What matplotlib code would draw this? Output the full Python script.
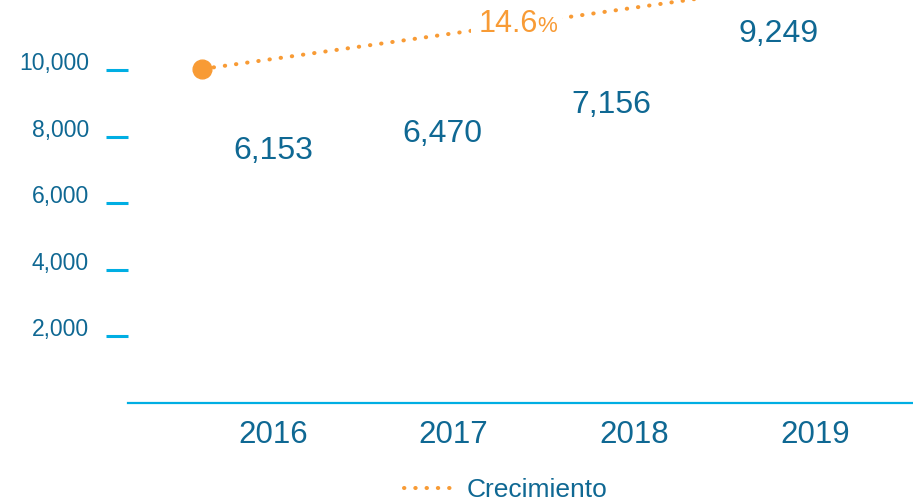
import matplotlib
matplotlib.use("Agg")
import matplotlib.pyplot as plt
from matplotlib.lines import Line2D
from matplotlib.patches import Rectangle

plt.rcParams['font.family'] = ['Liberation Sans', 'DejaVu Sans']

# ---- data ----
years = ['2016', '2017', '2018', '2019']
values = [6153, 6470, 7156, 9249]
growth_years = ['2016', '2019']
growth_values = [10030, 12340]
growth_label = '14.6'
yticks = [2000, 4000, 6000, 8000, 10000]

# ---- layout ----
label_dx = [0.0, -0.06, -0.13, -0.20]
label_dy = [1177, 1370, 1554, 1591]
growth_dx = -0.39

DARK = '#0f6893'
LIGHT = '#00aee3'
ORANGE = '#f89b35'

fig = plt.figure(figsize=(9.13, 5.04), dpi=100)
ax = fig.add_axes([128 / 913, 101 / 504, 785 / 913, 403 / 504])
ax.set_xlim(-0.802, 3.542)
ax.set_ylim(0, 12100)

for s in ['left', 'top', 'right']:
    ax.spines[s].set_visible(False)
ax.spines['bottom'].set_color(LIGHT)
ax.spines['bottom'].set_linewidth(1.6)

ax.set_xticks(range(len(years)))
ax.set_xticklabels(years)
ax.tick_params(axis='x', length=0, pad=12, labelsize=22.5, labelcolor=DARK)

ax.set_yticks(yticks)
ax.set_yticklabels([f'{v:,}' for v in yticks])
ax.tick_params(axis='y', direction='out', length=16, width=2.2, color=LIGHT,
               pad=12, labelsize=16.5, labelcolor=DARK)
for lab in ax.get_yticklabels():
    lab.set_verticalalignment('baseline')

# value labels
for i, v in enumerate(values):
    ax.text(i + label_dx[i], v + label_dy[i], f'{v:,}', ha='center', va='baseline',
            fontsize=23, color=DARK)

# growth line
LS = (0, (0.1, 2.7))
gx = [years.index(y) + growth_dx for y in growth_years]
line, = ax.plot(gx, growth_values, color=ORANGE, lw=2.9, linestyle=LS,
                dash_capstyle='round', marker='o', markevery=[0], markersize=13.5,
                zorder=2)

# growth label with white cover behind it
lx, ly = 1.14, 11140
ax.add_patch(Rectangle((1.095, 10850), 0.505, 1250, facecolor='white',
                       edgecolor='none', zorder=3))
ax.text(lx, ly, growth_label, fontsize=22, color=ORANGE, va='baseline', ha='left', zorder=5)
ax.text(1.462, ly, '%', fontsize=16, color=ORANGE, va='baseline', ha='left', zorder=5)

# legend
handle = Line2D([], [], color=ORANGE, lw=2.9, linestyle=LS, dash_capstyle='round')
leg = fig.legend([handle], ['Crecimiento'], loc='lower center',
                 bbox_to_anchor=(0.554, -0.043), frameon=False, fontsize=19,
                 handlelength=1.95, handletextpad=0.45)
for t in leg.get_texts():
    t.set_color(DARK)

fig.savefig('out.png', dpi=100)
